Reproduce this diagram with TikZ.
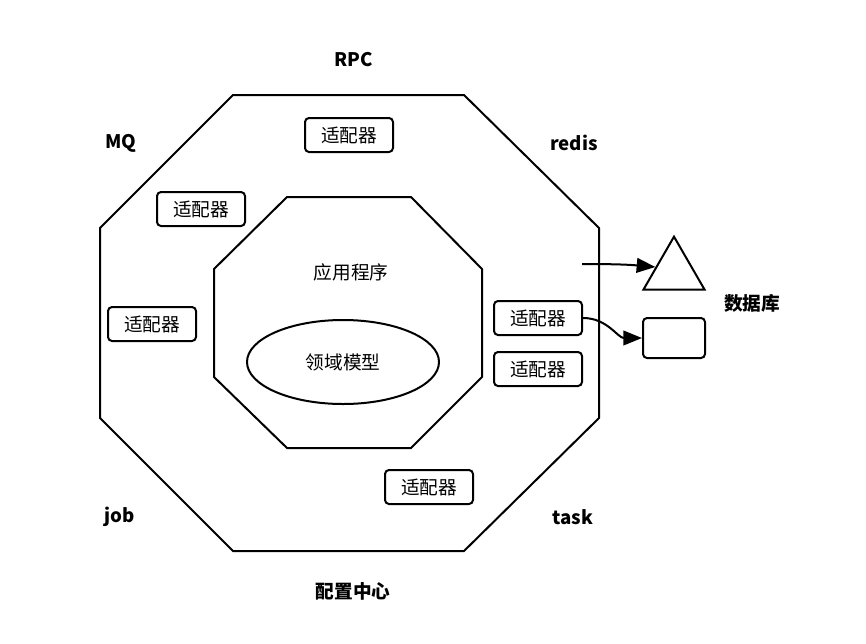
\documentclass[tikz,border=0pt]{standalone}
\usepackage{fontspec}
\setmainfont{Noto Sans CJK SC}
\usetikzlibrary{arrows.meta,shapes.geometric}

\tikzset{
  adapter/.style={draw, rounded corners=3pt, minimum width=66pt, minimum height=25.5pt, inner sep=0pt},
  lbl/.style={font=\fontsize{14}{16}\selectfont\bfseries},
  flow/.style={-{Triangle[length=14pt,width=11pt]}}
}

\begin{document}
\begin{tikzpicture}[x=0.75pt, y=-0.75pt, line width=1.5pt, font=\fontsize{14}{16}\selectfont]
        \useasboundingbox (0,0) rectangle (866,643);

        % Draw outer octagon
        \draw (233,95) -- (464,95) -- (599,228) -- (599,418) -- (464,551) -- (233,551) -- (100,418) -- (100,228) -- cycle;

        % Draw inner octagon
        \draw (287,197) -- (411,197) -- (482,269) -- (482,377) -- (411,448) -- (287,448) -- (214,377) -- (214,269) -- cycle;

        % Application and domain model
        \node (app) at (351,272) {应用程序};
        \node[draw, ellipse, minimum width=144pt, minimum height=63pt] (model) at (343,362) {领域模型};

        % Adapters
        \node[adapter] (ad1) at (349,135) {适配器};
        \node[adapter] (ad2) at (201,209) {适配器};
        \node[adapter] (ad3) at (152,324) {适配器};
        \node[adapter] (ad4) at (538,318) {适配器};
        \node[adapter] (ad5) at (538,369) {适配器};
        \node[adapter] (ad6) at (429,487) {适配器};

        % Outside labels
        \node[lbl] (rpc) at (354,60) {RPC};
        \node[lbl] (mq) at (121,143) {MQ};
        \node[lbl] (redis) at (574,143) {redis};
        \node[lbl] (job) at (120,517) {job};
        \node[lbl] (task) at (573,517) {task};
        \node[lbl] (conf) at (353,591) {配置中心};
        \node[lbl] (dbname) at (752,303) {数据库};

        % Databases
        \node[draw, regular polygon, regular polygon sides=3, minimum size=53pt, inner sep=0pt] (db1) at (674,272) {};
        \node[draw, rounded corners=3pt, minimum width=46.5pt, minimum height=30pt, inner sep=0pt] (db2) at (674,338) {};

        % Connections
        \coordinate (out) at (582,264);
        \draw[flow] (out) to[out=0, in=175] (db1.165);
        \draw[flow] (ad4.east) to[out=0, in=180] (db2.west);
    \end{tikzpicture}
\end{document}
